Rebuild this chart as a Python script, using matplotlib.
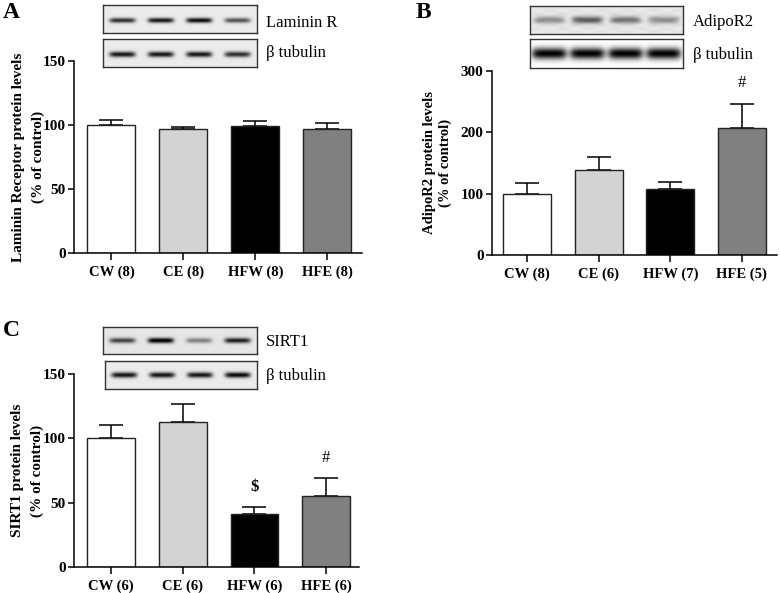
import numpy as np
import matplotlib
matplotlib.use('Agg')
import matplotlib.pyplot as plt

plt.rcParams['font.family'] = ['Liberation Serif', 'DejaVu Serif']

# Data
groups_a = ['CW (8)', 'CE (8)', 'HFW (8)', 'HFE (8)']
lamr_mean = [100, 97, 99, 97]
lamr_err = [4, 1.5, 4, 4.5]

groups_b = ['CW (8)', 'CE (6)', 'HFW (7)', 'HFE (5)']
adipor2_mean = [100, 138, 107, 207]
adipor2_err = [18, 22, 12, 40]

groups_c = ['CW (6)', 'CE (6)', 'HFW (6)', 'HFE (6)']
sirt1_mean = [100, 113, 41, 55]
sirt1_err = [10.5, 14, 6, 14]

bar_colors = ['white', '#d3d3d3', 'black', '#808080']

# blot band intensities (0-1) per lane
blot_lamr = [0.75, 0.85, 0.9, 0.6]
blot_tub_a = [0.85, 0.85, 0.85, 0.75]
blot_adipo = [0.35, 0.55, 0.45, 0.35]
blot_tub_b = [1.0, 1.0, 1.0, 1.0]
blot_sirt1 = [0.65, 0.95, 0.4, 0.8]
blot_tub_c = [0.85, 0.85, 0.85, 0.9]

fig = plt.figure(figsize=(7.8, 5.93), dpi=100)
W, H = 780.0, 593.0


def fax(x0, y0, x1, y1):
    # pixel box -> figure axes
    return fig.add_axes([x0 / W, 1 - y1 / H, (x1 - x0) / W, (y1 - y0) / H])


def bar_panel(ax, groups, mean, err, ymax, step, ylabel, xlim, lsp, lpad, lsize):
    x = np.arange(len(groups))
    ax.errorbar(x, mean, yerr=[[0] * len(mean), err], fmt='none', ecolor='black',
                elinewidth=1.1, capsize=8.5, capthick=1.1, zorder=1)
    ax.bar(x, mean, width=0.667, color=bar_colors, edgecolor='#222222',
           linewidth=1.0, zorder=2)
    ax.set_xlim(*xlim)
    ax.set_ylim(0, ymax)
    ax.set_yticks(np.arange(0, ymax + 1, step))
    ax.set_xticks(x)
    ax.set_xticklabels(groups, fontweight='bold', fontsize=10.5)
    for lab in ax.get_yticklabels():
        lab.set_fontweight('bold')
        lab.set_fontsize(11)
    ax.spines['top'].set_visible(False)
    ax.spines['right'].set_visible(False)
    for s in ['left', 'bottom']:
        ax.spines[s].set_linewidth(1.1)
    ax.tick_params(axis='both', length=4, width=1.1, pad=2)
    ax.tick_params(axis='x', length=5, pad=4)
    ax.set_ylabel(ylabel, fontweight='bold', fontsize=lsize, linespacing=lsp, labelpad=lpad)


def blot(ax, intens, bg=0.08, sy=0.08, hw=0.085, yc=0.55, noise=0.0):
    nx, ny = 240, 40
    xx = np.linspace(0, 1, nx)
    yy = np.linspace(0, 1, ny)
    X, Y = np.meshgrid(xx, yy)
    img = np.full_like(X, bg)
    for i, v in enumerate(intens):
        c = (i + 0.5) / len(intens)
        img += v * np.exp(-((X - c) / hw) ** 6) * np.exp(-((Y - yc) / sy) ** 2)
    if noise:
        img += noise * np.sin(X * 37) * np.cos(Y * 23)
    ax.imshow(np.clip(img, 0, 1), cmap='gray_r', vmin=0, vmax=1, aspect='auto',
              extent=[0, 1, 1, 0], interpolation='bilinear')
    ax.set_xticks([])
    ax.set_yticks([])
    for s in ax.spines.values():
        s.set_linewidth(1.0)
        s.set_color('#333333')


# Panel A
axA = fax(74, 61, 362, 253)
bar_panel(axA, groups_a, lamr_mean, lamr_err, 150, 50,
          'Laminin Receptor protein levels\n(% of control)', (-0.52, 3.48), 1.6, -1.5, 11)
blot(fax(103, 5, 257, 33), blot_lamr, sy=0.09)
blot(fax(103, 39, 257, 67), blot_tub_a, sy=0.1)
fig.text(266 / W, 1 - 23 / H, 'Laminin R', fontsize=12, va='center')
fig.text(266 / W, 1 - 53 / H, 'β tubulin', fontsize=12, va='center')
fig.text(3 / W, 1 - 13 / H, 'A', fontsize=17, fontweight='bold', va='center')

# Panel B
axB = fax(492, 71, 777, 255)
bar_panel(axB, groups_b, adipor2_mean, adipor2_err, 300, 100,
          'AdipoR2 protein levels\n(% of control)', (-0.49, 3.49), 1.3, 6, 10.5)
axB.text(3, 280, '#', ha='center', va='center', fontsize=12)
blot(fax(530, 6, 683, 34), blot_adipo, bg=0.1, sy=0.13, hw=0.1, yc=0.5, noise=0.02)
blot(fax(530, 39, 683, 68), blot_tub_b, bg=0.0, sy=0.2, hw=0.115, yc=0.5)
fig.text(693 / W, 1 - 22 / H, 'AdipoR2', fontsize=12, va='center')
fig.text(693 / W, 1 - 55 / H, 'β tubulin', fontsize=12, va='center')
fig.text(416 / W, 1 - 12 / H, 'B', fontsize=17, fontweight='bold', va='center')

# Panel C
axC = fax(74, 374, 359, 567)
bar_panel(axC, groups_c, sirt1_mean, sirt1_err, 150, 50,
          'SIRT1 protein levels\n(% of control)', (-0.52, 3.46), 1.6, -1.0, 11)
axC.text(2, 62, '$', ha='center', va='center', fontsize=12, fontweight='bold')
axC.text(3, 84.5, '#', ha='center', va='center', fontsize=12)
blot(fax(103, 327, 257, 354), blot_sirt1, bg=0.1, sy=0.1, yc=0.5)
blot(fax(105, 361, 257, 389), blot_tub_c, sy=0.1, yc=0.5)
fig.text(266 / W, 1 - 342 / H, 'SIRT1', fontsize=12, va='center')
fig.text(266 / W, 1 - 376 / H, 'β tubulin', fontsize=12, va='center')
fig.text(3 / W, 1 - 330 / H, 'C', fontsize=17, fontweight='bold', va='center')

fig.savefig('out.png', dpi=100)
